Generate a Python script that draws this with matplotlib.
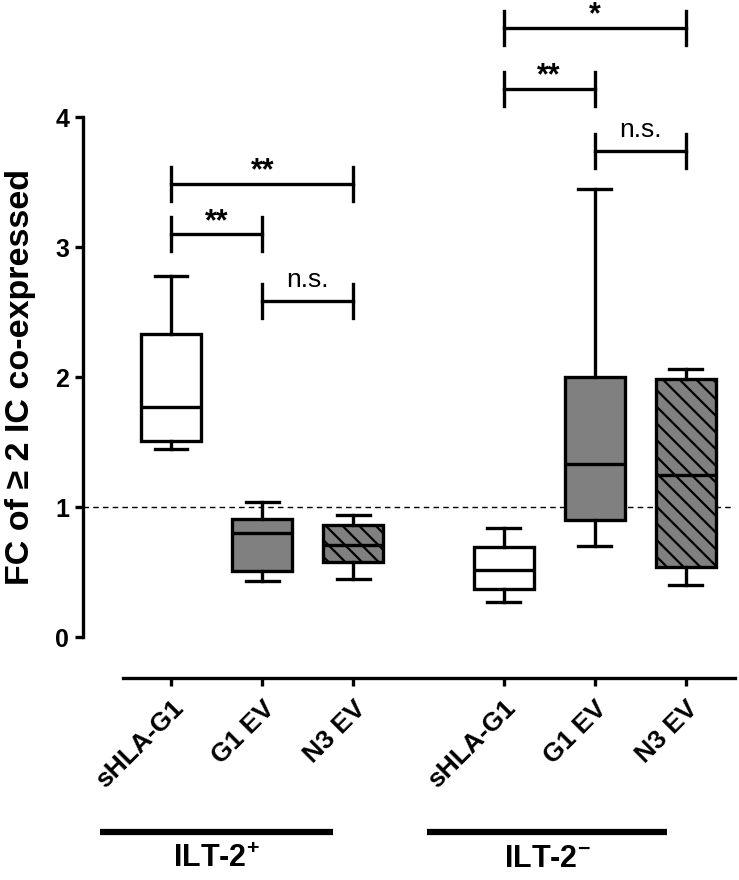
import matplotlib
matplotlib.use("Agg")
import matplotlib.pyplot as plt
from matplotlib.lines import Line2D

plt.rcParams['font.family'] = ['Liberation Sans', 'DejaVu Sans']
plt.rcParams['mathtext.fontset'] = 'custom'
plt.rcParams['mathtext.rm'] = 'Liberation Sans'
plt.rcParams['mathtext.bf'] = 'Liberation Sans:bold'
plt.rcParams['hatch.linewidth'] = 1.6

# box stats: whisker low, q1, median, q3, whisker high
categorias = ["sHLA-G1", "G1 EV", "N3 EV", "sHLA-G1", "G1 EV", "N3 EV"]
grupos = ["ILT-2$^{\\mathbf{+}}$", "ILT-2$^{\\mathbf{-}}$"]
whis_lo = [1.45, 0.43, 0.45, 0.27, 0.70, 0.40]
q1 = [1.51, 0.51, 0.575, 0.37, 0.90, 0.54]
mediana = [1.77, 0.80, 0.71, 0.52, 1.33, 1.25]
q3 = [2.33, 0.91, 0.86, 0.69, 2.00, 1.99]
whis_hi = [2.78, 1.04, 0.94, 0.84, 3.45, 2.06]

# comparisons: (index a, index b, height, label)
comparaciones = [
    (0, 2, 3.49, "**"),
    (0, 1, 3.10, "**"),
    (1, 2, 2.59, "n.s."),
    (3, 5, 4.69, "*"),
    (3, 4, 4.22, "**"),
    (4, 5, 3.74, "n.s."),
]

colores = ["white", "#808080", "#808080"] * 2
tramas = [None, None, "\\\\"] * 2
pos = [1, 2, 3, 4.65, 5.65, 6.65]

fig = plt.figure(figsize=(7.39, 8.8), dpi=100)
ax = fig.add_axes([0.1123, 0.276, 0.8823, 0.716])

stats = []
for i in range(len(categorias)):
    stats.append({"whislo": whis_lo[i], "q1": q1[i], "med": mediana[i],
                  "q3": q3[i], "whishi": whis_hi[i], "fliers": []})

lw = 2.4
bp = ax.bxp(stats, positions=pos, widths=0.66, capwidths=0.36,
            patch_artist=True, showfliers=False,
            boxprops=dict(linewidth=lw, edgecolor="black"),
            medianprops=dict(linewidth=lw, color="black"),
            whiskerprops=dict(linewidth=lw, color="black"),
            capprops=dict(linewidth=lw, color="black"))
for caja, c, h in zip(bp["boxes"], colores, tramas):
    caja.set_facecolor(c)
    if h:
        caja.set_hatch(h)

ax.axhline(1, color="black", linestyle=(0, (4, 3)), linewidth=1, zorder=0)

# brackets
for a, b, y, txt in comparaciones:
    xa, xb = pos[a], pos[b]
    ax.plot([xa, xb], [y, y], color="black", lw=lw, clip_on=False)
    ax.plot([xa, xa], [y - 0.13, y + 0.13], color="black", lw=lw, clip_on=False)
    ax.plot([xb, xb], [y - 0.13, y + 0.13], color="black", lw=lw, clip_on=False)
    if txt == "n.s.":
        ax.text((xa + xb) / 2, y + 0.07, txt, ha="center", va="bottom", fontsize=19)
    else:
        ax.text((xa + xb) / 2, y - 0.02, txt, ha="center", va="bottom",
                fontsize=22, fontweight="bold")

ax.set_xlim(0.033, 7.19)
ax.set_ylim(0, 4.85)
ax.spines["top"].set_visible(False)
ax.spines["right"].set_visible(False)
ax.spines["left"].set_bounds(0, 4)
ax.spines["bottom"].set_bounds(0.47, 7.19)
ax.spines["left"].set_linewidth(lw)
ax.spines["bottom"].set_linewidth(lw)
ax.spines["bottom"].set_position(("outward", 29.5))
ax.set_yticks([0, 1, 2, 3, 4])
ax.set_yticklabels(["0", "1", "2", "3", "4"], fontsize=18, fontweight="bold")
ax.tick_params(axis="y", width=lw, length=6, pad=4)
ax.tick_params(axis="x", width=lw, length=6, pad=7)
ax.set_xticks(pos)
ax.set_xticklabels(categorias, rotation=45, ha="right", va="top",
                   rotation_mode="anchor", fontsize=19, fontweight="bold")
ax.set_ylabel("FC of \u2265 2 IC co-expressed", fontsize=24.5, fontweight="bold")
ax.yaxis.set_label_coords(-0.072, 2 / 4.85)

# group bars and labels below the axis
tr = ax.get_xaxis_transform()
for (x0, x1), g in zip([(0.22, 2.78), (3.81, 6.44)], grupos):
    ax.add_line(Line2D([x0, x1], [-0.31, -0.31], transform=tr, color="black",
                       lw=4.5, clip_on=False, solid_capstyle="butt"))
    ax.text((x0 + x1) / 2, -0.352, g, transform=tr, ha="center", va="center",
            fontsize=22, fontweight="bold")

fig.savefig("out.png", dpi=100)
